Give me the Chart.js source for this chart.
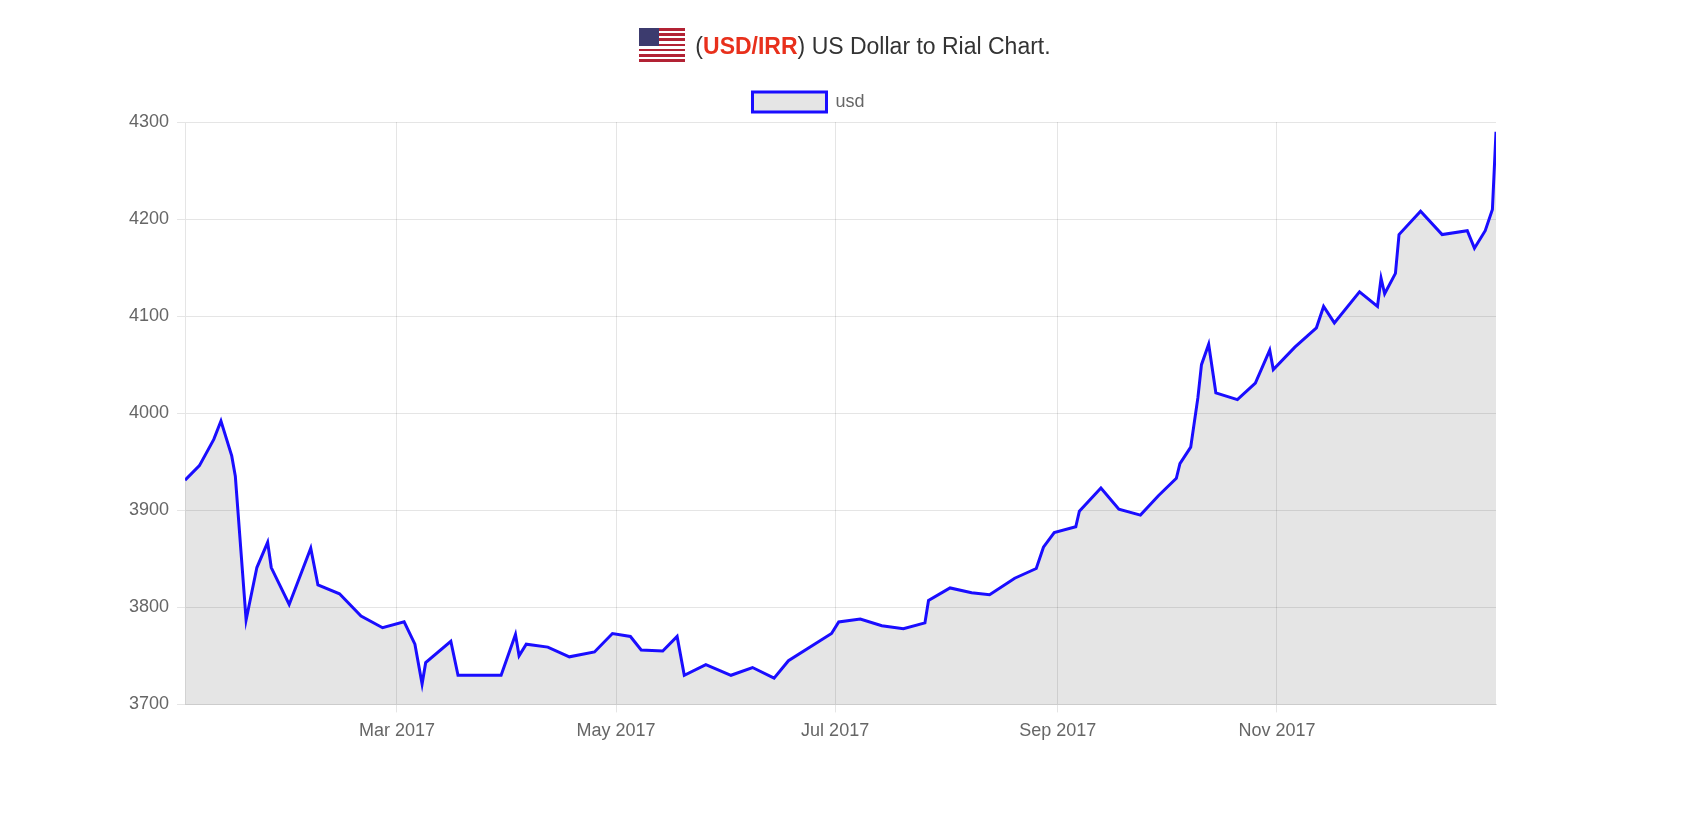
<!DOCTYPE html>
<html><head><meta charset="utf-8">
<script src="https://cdn.jsdelivr.net/npm/chart.js@4"></script>
<style>
html,body{margin:0;padding:0;background:#fff;width:1690px;height:824px;overflow:hidden;font-family:"Helvetica Neue",Arial,"Liberation Sans",sans-serif}
#title{position:absolute;top:28px;left:0;width:1690px;text-align:center;font-size:23px;color:#333;font-family:"Liberation Sans",Arial,sans-serif}
#title b{color:#e8301c}
.flag{display:inline-block;width:46px;height:34px;vertical-align:-8px;margin-right:10px;position:relative;background:repeating-linear-gradient(#b22234 0 2.6px,#fff 2.6px 5.2px)}
.flag i{position:absolute;left:0;top:0;width:20px;height:18px;background:#3c3b6e}
#wrap{position:absolute;left:0;top:0;width:1690px;height:824px}
</style></head><body>
<div id="wrap"><canvas id="c" width="1690" height="824"></canvas></div>
<div id="title"><span class="flag"><i></i></span>(<b>USD/IRR</b>) US Dollar to Rial Chart.</div>
<script>
const days=[0,4,8,10,13,14,17,20,23,24,29,35,37,43,49,55,61,64,66,67,74,76,88,92,93,95,101,107,114,119,124,127,133,137,139,145,152,158,164,168,180,182,188,194,200,206,207,213,219,224,231,237,239,242,248,249,255,260,266,271,276,277,280,282,283,285,287,293,298,302,303,309,315,317,320,327,332,333,334,337,338,344,350,357,359,362,364,365];
const usd=[3931,3946,3973,3992,3956,3935,3787,3841,3867,3841,3803,3861,3823,3814,3791,3779,3785,3762,3721,3743,3765,3730,3730,3772,3750,3762,3759,3749,3754,3773,3770,3756,3755,3770,3730,3741,3730,3738,3727,3745,3773,3785,3788,3781,3778,3784,3807,3820,3815,3813,3830,3840,3862,3877,3883,3899,3923,3901,3895,3915,3933,3948,3965,4016,4050,4071,4021,4014,4031,4065,4045,4068,4088,4110,4093,4125,4110,4139,4123,4144,4184,4208,4184,4188,4170,4188,4210,4290];
const tickDays=[59,120,181,243,304];
const tickLabels=['Mar 2017','May 2017','Jul 2017','Sep 2017','Nov 2017'];
new Chart(document.getElementById('c'),{
 type:'line',
 data:{datasets:[{label:'usd',data:days.map((d,i)=>({x:d,y:usd[i]})),borderColor:'#1a0dff',borderWidth:3,backgroundColor:'rgba(0,0,0,0.1)',fill:true,pointRadius:0,tension:0}]},
 options:{responsive:false,animation:false,
  layout:{padding:{top:78,left:121,right:194,bottom:74}},
  plugins:{legend:{labels:{boxWidth:74,boxHeight:20,font:{size:18},color:'#666',padding:14}},tooltip:{enabled:false}},
  scales:{
   x:{type:'linear',min:0,max:365,
      afterBuildTicks:a=>{a.ticks=tickDays.map(v=>({value:v}));},
      ticks:{callback:v=>tickLabels[tickDays.indexOf(v)],font:{size:18},color:'#666',maxRotation:0,padding:8},
      grid:{color:'rgba(0,0,0,0.1)'}},
   y:{min:3700,max:4300,ticks:{stepSize:100,callback:v=>String(v),font:{size:18},color:'#666',padding:8},grid:{color:'rgba(0,0,0,0.1)'}}
  }}
});
</script></body></html>
